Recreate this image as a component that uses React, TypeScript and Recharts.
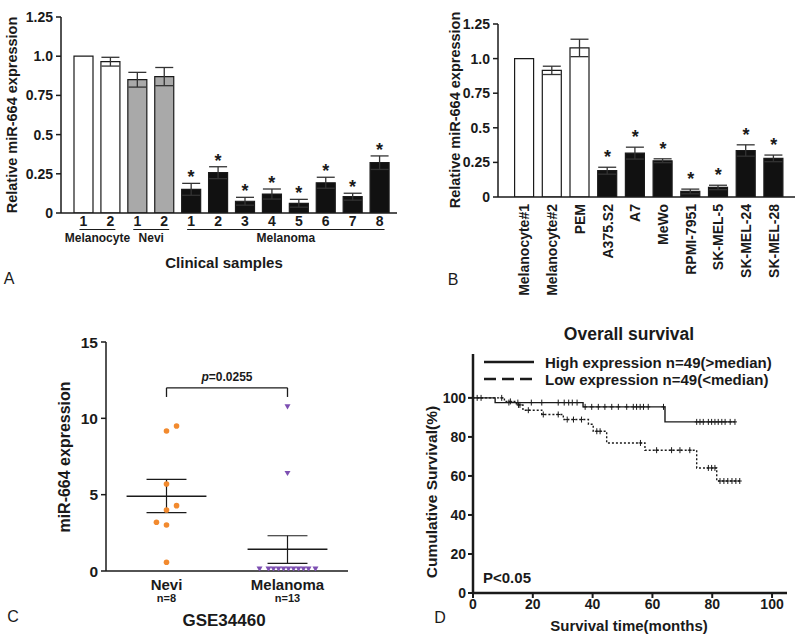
import React from 'react';
import { ComposedChart, ScatterChart, Bar, Cell, ErrorBar, Scatter, XAxis, YAxis, Line, ReferenceLine } from 'recharts';

const FONT = '"Liberation Sans", Arial, Helvetica, sans-serif';
const INK = '#1a1a1a';

// ---- Panel A: clinical samples ----
const aTicks = ['1', '2', '1', '2', '1', '2', '3', '4', '5', '6', '7', '8'];
const aGroups = ['Melanocyte', 'Melanocyte', 'Nevi', 'Nevi', 'Melanoma', 'Melanoma', 'Melanoma', 'Melanoma', 'Melanoma', 'Melanoma', 'Melanoma', 'Melanoma'];
const aValues = [1.0, 0.965, 0.85, 0.87, 0.151, 0.257, 0.075, 0.121, 0.062, 0.193, 0.104, 0.321];
const aErrors = [0, 0.028, 0.047, 0.058, 0.038, 0.038, 0.025, 0.032, 0.025, 0.035, 0.022, 0.043];
const aStarred = [false, false, false, false, true, true, true, true, true, true, true, true];

// ---- Panel B: cell lines ----
const bLines = ['Melanocyte#1', 'Melanocyte#2', 'PEM', 'A375.S2', 'A7', 'MeWo', 'RPMI-7951', 'SK-MEL-5', 'SK-MEL-24', 'SK-MEL-28'];
const bValues = [1.0, 0.915, 1.077, 0.19, 0.317, 0.262, 0.04, 0.069, 0.336, 0.279];
const bErrors = [0, 0.03, 0.063, 0.025, 0.043, 0.014, 0.017, 0.016, 0.041, 0.024];
const bStarred = [false, false, false, true, true, true, true, true, true, true];

const barYTicks = [0, 0.25, 0.5, 0.75, 1, 1.25];
const barYLabels = ['0', '0.25', '0.5', '0.75', '1.0', '1.25'];

// ---- Panel C: GSE34460 ----
const cNames = ['Nevi', 'Melanoma'];
const cCounts = ['n=8', 'n=13'];
const neviX = [1, 1.083, 1, 1.083, 1, 0.917, 1, 1];
const neviY = [9.17, 9.5, 5.7, 4.28, 4.0, 3.19, 3.01, 0.57];
const melX = [2, 2, 1.769, 1.843, 1.884, 1.926, 1.967, 2.008, 2.05, 2.091, 2.132, 2.174, 2.231];
const melY = [10.76, 6.4, 0.13, 0.13, 0.13, 0.13, 0.13, 0.13, 0.13, 0.13, 0.13, 0.13, 0.13];
const cMean = [4.89, 1.42];
const cSemHi = [6.0, 2.31];
const cSemLo = [3.82, 0.5];

// ---- Panel D: Kaplan-Meier ----
const highT = [0, 7.4, 36.8, 64.2, 87.6];
const highS = [100, 97.6, 95.4, 87.7, 87.7];
const lowT = [0, 10.5, 14.5, 16.7, 23, 30.2, 38.6, 40.2, 44.7, 57.5, 74.8, 81.5, 89.9];
const lowS = [100, 98.2, 96.4, 93.7, 91.5, 88.9, 86.5, 82.9, 76.9, 73.2, 64.1, 57.4, 57.4];
const highCensorT = [1.4, 2.7, 12, 15, 19.5, 23, 28.5, 30.5, 32, 33.2, 34.8, 37.5, 39.7, 41.9, 44.1, 46.4, 48.6, 51.4, 53.6, 54.7, 55.9, 57, 58.6, 63.7, 74.8, 75.9, 77, 78.7, 79.8, 80.9, 82, 83.2, 84.3, 86, 87.6];
const highCensorS = [100, 100, 97.6, 97.6, 97.6, 97.6, 97.6, 97.6, 97.6, 97.6, 97.6, 95.4, 95.4, 95.4, 95.4, 95.4, 95.4, 95.4, 95.4, 95.4, 95.4, 95.4, 95.4, 95.4, 87.7, 87.7, 87.7, 87.7, 87.7, 87.7, 87.7, 87.7, 87.7, 87.7, 87.7];
const lowCensorT = [9.6, 12.5, 15.2, 15.7, 18.5, 23.5, 28.5, 31.5, 33.6, 36.3, 41.4, 42.5, 56, 61.4, 66.4, 69.2, 72.5, 78.7, 79.8, 80.9, 82.6, 83.9, 85.2, 86.6, 87.9, 89.2];
const lowCensorS = [100, 98.2, 96.4, 96.4, 93.7, 91.5, 91.5, 88.9, 88.9, 88.9, 82.9, 82.9, 76.9, 73.2, 73.2, 73.2, 73.2, 64.1, 64.1, 64.1, 57.4, 57.4, 57.4, 57.4, 57.4, 57.4];
const kmTicks = [0, 20, 40, 60, 80, 100];

const groupFill: Record<string, string> = { Melanocyte: '#ffffff', Nevi: '#a9a9a9', Melanoma: '#111111' };

const aData = aTicks.map((t, i) => ({
  key: `a${i}`, tick: t, group: aGroups[i], value: aValues[i], err: aErrors[i],
  star: aStarred[i] ? aValues[i] + aErrors[i] : null,
}));
const bData = bLines.map((name, i) => ({
  name, value: bValues[i], err: bErrors[i], star: bStarred[i] ? bValues[i] + bErrors[i] : null,
}));
const neviPts = neviX.map((x, i) => ({ x, y: neviY[i] }));
const melPts = melX.map((x, i) => ({ x, y: melY[i] }));
const highData = highT.map((t, i) => ({ t, s: highS[i] }));
const lowData = lowT.map((t, i) => ({ t, s: lowS[i] }));
const highCensor = highCensorT.map((t, i) => ({ t, s: highCensorS[i] }));
const lowCensor = lowCensorT.map((t, i) => ({ t, s: lowCensorS[i] }));

const tickFont = { fontFamily: FONT, fontSize: 14, fontWeight: 700, fill: INK };
const barLabel = (v: number) => barYLabels[barYTicks.indexOf(v)] ?? String(v);

const Txt = ({ x, y, size = 15, bold = true, rotate = 0, children }: { x: number; y: number; size?: number; bold?: boolean; rotate?: number; children: React.ReactNode }) => (
  <div style={{
    position: 'absolute', left: x, top: y, transform: `translate(-50%, -50%) rotate(${rotate}deg)`,
    fontFamily: FONT, fontSize: size, fontWeight: bold ? 700 : 400, lineHeight: 1, whiteSpace: 'nowrap', color: INK,
  }}>{children}</div>
);

const starShape = (lift: number) => (p: any) => {
  if (p.cy == null || !isFinite(p.cy)) return <g />;
  return <text x={p.cx} y={p.cy - lift} textAnchor="middle" fontFamily={FONT} fontSize={18} fontWeight={700} fill={INK}>*</text>;
};

// panel A band width: plot 336px minus padding 13px, 12 bands
const A_BAND = (336 - 13) / 12;
const A_AXIS_Y = 213;

const ClinicalTick = (props: any) => {
  const { x, payload } = props;
  const i = payload?.index ?? props.index;
  const first = i === 0 || aGroups[i - 1] !== aGroups[i];
  let group = null;
  if (first) {
    const n = aGroups.filter(g => g === aGroups[i]).length;
    const x1 = x - 4;
    const x2 = x + (n - 1) * A_BAND + 5;
    group = (
      <g>
        <line x1={x1} x2={x2} y1={A_AXIS_Y + 16.5} y2={A_AXIS_Y + 16.5} stroke={INK} strokeWidth={1.2} />
        <text x={(x1 + x2) / 2} y={A_AXIS_Y + 28.5} textAnchor="middle" fontFamily={FONT} fontSize={12} fontWeight={700} fill={INK}>{aGroups[i]}</text>
      </g>
    );
  }
  return (
    <g>
      <text x={x} y={A_AXIS_Y + 13} textAnchor="middle" fontFamily={FONT} fontSize={14} fontWeight={700} fill={INK}>{aTicks[i]}</text>
      {group}
    </g>
  );
};

const CellLineTick = (props: any) => {
  const { x, payload } = props;
  const y = 204;
  return (
    <text x={x} y={y} transform={`rotate(-90 ${x} ${y})`} textAnchor="end" dy="0.36em" fontFamily={FONT} fontSize={14} fontWeight={700} fill={INK}>
      {payload.value}
    </text>
  );
};

const GroupTick = (props: any) => {
  const { x, payload } = props;
  const i = cNames.length === 2 ? (payload.value === 1 ? 0 : 1) : 0;
  const y = 271;
  return (
    <g>
      <text x={x} y={y + 19} textAnchor="middle" fontFamily={FONT} fontSize={15} fontWeight={700} fill={INK}>{cNames[i]}</text>
      <text x={x} y={y + 31} textAnchor="middle" fontFamily={FONT} fontSize={11} fontWeight={700} fill={INK}>{cCounts[i]}</text>
    </g>
  );
};

const dotShape = (p: any) => <circle cx={p.cx} cy={p.cy} r={2.8} fill="#f28a2e" />;
const triShape = (p: any) => (
  <path d={`M${p.cx - 3},${p.cy - 2.4} L${p.cx + 3},${p.cy - 2.4} L${p.cx},${p.cy + 2.8} Z`} fill="#7d4fb2" />
);
const censorShape = (p: any) => (
  <g stroke={INK} strokeWidth={1}>
    <line x1={p.cx} x2={p.cx} y1={p.cy - 3} y2={p.cy + 3} />
    <line x1={p.cx - 2} x2={p.cx + 2} y1={p.cy} y2={p.cy} />
  </g>
);

const axisStroke = { stroke: INK, strokeWidth: 1.5 };
const frameStroke = { stroke: INK, strokeWidth: 2.5 };

export default function App() {
  return (
    <div style={{ position: 'absolute', left: 0, top: 0, width: 800, height: 637, background: '#fff', overflow: 'hidden' }}>
      {/* A */}
      <div style={{ position: 'absolute', left: 0, top: 0 }}>
        <ComposedChart width={400} height={300} data={aData} margin={{ top: 17, right: 3, bottom: 0, left: 0 }}>
          <XAxis dataKey="key" height={87} padding={{ left: 9, right: 4 }} interval={0} tickLine={false} axisLine={axisStroke} tick={<ClinicalTick />} />
          <YAxis width={61} domain={[0, 1.25]} ticks={barYTicks} allowDataOverflow tickFormatter={barLabel} tick={tickFont} tickSize={5} tickMargin={3} axisLine={axisStroke} tickLine={axisStroke} />
          <Bar dataKey="value" barSize={19} stroke={INK} strokeWidth={1.2} isAnimationActive={false}>
            {aData.map(d => <Cell key={d.key} fill={groupFill[d.group]} />)}
            <ErrorBar dataKey="err" width={9} stroke="#333" strokeWidth={1.3} />
          </Bar>
          <Scatter dataKey="star" shape={starShape(0)} isAnimationActive={false} />
        </ComposedChart>
      </div>
      <Txt x={12} y={115} size={14.5} rotate={-90}>Relative miR-664 expression</Txt>
      <Txt x={224} y={262}>Clinical samples</Txt>
      <Txt x={9} y={279} size={16} bold={false}>A</Txt>

      {/* B */}
      <div style={{ position: 'absolute', left: 400, top: 0 }}>
        <ComposedChart width={400} height={300} data={bData} margin={{ top: 24, right: 5, bottom: 0, left: 0 }}>
          <XAxis dataKey="name" height={103} padding={{ left: 12.6, right: 7.4 }} interval={0} tickLine={false} axisLine={axisStroke} tick={<CellLineTick />} />
          <YAxis width={98} domain={[0, 1.25]} ticks={barYTicks} allowDataOverflow tickFormatter={barLabel} tick={tickFont} tickSize={5} tickMargin={3} axisLine={axisStroke} tickLine={axisStroke} />
          <Bar dataKey="value" barSize={19} stroke={INK} strokeWidth={1.2} isAnimationActive={false}>
            {bData.map((d, i) => <Cell key={d.name} fill={i < 3 ? '#ffffff' : '#111111'} />)}
            <ErrorBar dataKey="err" width={9} stroke="#333" strokeWidth={1.3} />
          </Bar>
          <Scatter dataKey="star" shape={starShape(4)} isAnimationActive={false} />
        </ComposedChart>
      </div>
      <Txt x={455} y={110} size={14.5} rotate={-90}>Relative miR-664 expression</Txt>
      <Txt x={453} y={280} size={16} bold={false}>B</Txt>

      {/* C */}
      <div style={{ position: 'absolute', left: 0, top: 300 }}>
        <ScatterChart width={400} height={337} margin={{ top: 42, right: 52, bottom: 0, left: 0 }}>
          <XAxis dataKey="x" type="number" domain={[0.5, 2.5]} ticks={[1, 2]} height={66} tickLine={false} axisLine={axisStroke} tick={<GroupTick />} />
          <YAxis dataKey="y" type="number" width={106} domain={[0, 15]} ticks={[0, 5, 10, 15]} allowDataOverflow tick={{ ...tickFont, fontSize: 15.5 }} tickSize={5} tickMargin={3} axisLine={axisStroke} tickLine={axisStroke} />
          {cMean.map((m, i) => (
            <ReferenceLine key={`m${i}`} segment={[{ x: i + 1 - 0.33, y: m }, { x: i + 1 + 0.33, y: m }]} stroke={INK} strokeWidth={1.5} />
          ))}
          {cMean.map((_, i) => (
            <ReferenceLine key={`v${i}`} segment={[{ x: i + 1, y: cSemLo[i] }, { x: i + 1, y: cSemHi[i] }]} stroke={INK} strokeWidth={1.2} />
          ))}
          {cSemHi.map((s, i) => (
            <ReferenceLine key={`h${i}`} segment={[{ x: i + 1 - 0.165, y: s }, { x: i + 1 + 0.165, y: s }]} stroke={INK} strokeWidth={1.2} />
          ))}
          {cSemLo.map((s, i) => (
            <ReferenceLine key={`l${i}`} segment={[{ x: i + 1 - 0.165, y: s }, { x: i + 1 + 0.165, y: s }]} stroke={INK} strokeWidth={1.2} />
          ))}
          <ReferenceLine segment={[{ x: 1, y: 11.4 }, { x: 1, y: 12 }]} stroke={INK} strokeWidth={1.3} />
          <ReferenceLine segment={[{ x: 1, y: 12 }, { x: 2, y: 12 }]} stroke={INK} strokeWidth={1.3} />
          <ReferenceLine segment={[{ x: 2, y: 12 }, { x: 2, y: 11.4 }]} stroke={INK} strokeWidth={1.3} />
          <Scatter data={neviPts} shape={dotShape} isAnimationActive={false} />
          <Scatter data={melPts} shape={triShape} isAnimationActive={false} />
        </ScatterChart>
      </div>
      <Txt x={227} y={377} size={12}><i>p</i>=0.0255</Txt>
      <Txt x={65} y={457} size={16} rotate={-90}>miR-664 expression</Txt>
      <Txt x={224} y={620} size={17}>GSE34460</Txt>
      <Txt x={13} y={617} size={16} bold={false}>C</Txt>

      {/* D */}
      <div style={{ position: 'absolute', left: 400, top: 300 }}>
        <ComposedChart width={400} height={337} margin={{ top: 54, right: 13, bottom: 0, left: 0 }}>
          <XAxis dataKey="t" type="number" domain={[0, 105]} ticks={kmTicks} allowDataOverflow height={44} tick={tickFont} tickSize={5} tickMargin={1} axisLine={frameStroke} tickLine={{ stroke: INK, strokeWidth: 2 }} />
          <XAxis xAxisId="top" orientation="top" type="number" domain={[0, 105]} height={0} tick={false} tickLine={false} axisLine={frameStroke} />
          <YAxis type="number" domain={[0, 122.5]} ticks={kmTicks} allowDataOverflow width={73} tick={tickFont} tickSize={5} tickMargin={2} axisLine={frameStroke} tickLine={{ stroke: INK, strokeWidth: 2 }} />
          <YAxis yAxisId="right" orientation="right" type="number" domain={[0, 122.5]} width={0} tick={false} tickLine={false} axisLine={frameStroke} />
          <Line data={highData} dataKey="s" type="stepAfter" stroke={INK} strokeWidth={1.4} dot={false} isAnimationActive={false} />
          <Line data={lowData} dataKey="s" type="stepAfter" stroke={INK} strokeWidth={1.4} strokeDasharray="2 2" dot={false} isAnimationActive={false} />
          <Scatter data={highCensor} dataKey="s" shape={censorShape} isAnimationActive={false} />
          <Scatter data={lowCensor} dataKey="s" shape={censorShape} isAnimationActive={false} />
        </ComposedChart>
      </div>
      <Txt x={629} y={335} size={17.5}>Overall survival</Txt>
      {[
        { y: 362, dash: undefined, text: 'High expression n=49(>median)' },
        { y: 379, dash: '12 6', text: 'Low expression n=49(<median)' },
      ].map(r => (
        <div key={r.text} style={{ position: 'absolute', left: 484, top: r.y - 9, height: 18, display: 'flex', alignItems: 'center' }}>
          <svg width={50} height={6}><line x1={0} x2={50} y1={3} y2={3} stroke={INK} strokeWidth={2.6} strokeDasharray={r.dash} /></svg>
          <span style={{ marginLeft: 11, fontFamily: FONT, fontSize: 15, fontWeight: 700, color: INK, lineHeight: 1 }}>{r.text}</span>
        </div>
      ))}
      <Txt x={507} y={577} size={15}>P&lt;0.05</Txt>
      <Txt x={432} y={492} size={15.5} rotate={-90}>Cumulative Survival(%)</Txt>
      <Txt x={629} y={625} size={15}>Survival time(months)</Txt>
      <Txt x={440} y={618} size={16} bold={false}>D</Txt>
    </div>
  );
}
